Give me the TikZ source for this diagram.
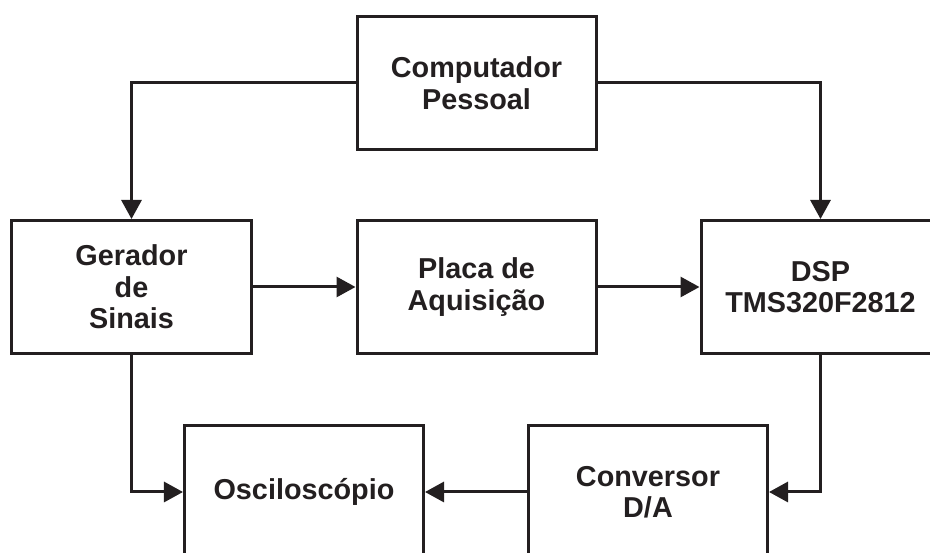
\documentclass[tikz,border=0pt]{standalone}
\usepackage{fontspec}
\setmainfont{Liberation Sans}
\usepackage{tikz}
\usetikzlibrary{ positioning, arrows.meta }
\usepackage{xcolor}
\definecolor{ink}{HTML}{231F20}

\begin{document}
\begin{tikzpicture}[
  node distance=68pt and 103pt,
  blk/.style={draw=ink, line width=3pt, minimum width=239pt, minimum height=133pt,
              align=center, text=ink, font=\bfseries\fontsize{28.8}{31.5}\selectfont},
  ar/.style={-{Triangle[length=19pt,width=20pt]}, line width=3pt, ink},
]
  \useasboundingbox (-131.5pt,-266pt) rectangle (798.5pt,287pt);
  \clip (-131.5pt,-266pt) rectangle (798.5pt,287pt);
  \node[blk] (ger) {Gerador\\de\\Sinais};
  \node[blk, right=of ger] (placa) {Placa de\\Aquisição};
  \node[blk, right=102pt of placa] (dsp) {DSP\\TMS320F2812};
  \node[blk, above=of placa] (comp) {Computador\\Pessoal};
  \node[blk, below=69pt of ger, xshift=172.5pt] (osc) {Osciloscópio};
  \node[blk, right=102pt of osc] (conv) {Conversor\\D/A};
  \draw[ar] (comp.west) -| (ger.north);
  \draw[ar] (comp.east) -| (dsp.north);
  \draw[ar] (ger) -- (placa);
  \draw[ar] (placa) -- (dsp);
  \draw[ar] (ger.south) |- (osc.west);
  \draw[ar] (dsp.south) |- (conv.east);
  \draw[ar] (conv) -- (osc);
\end{tikzpicture}
\end{document}
